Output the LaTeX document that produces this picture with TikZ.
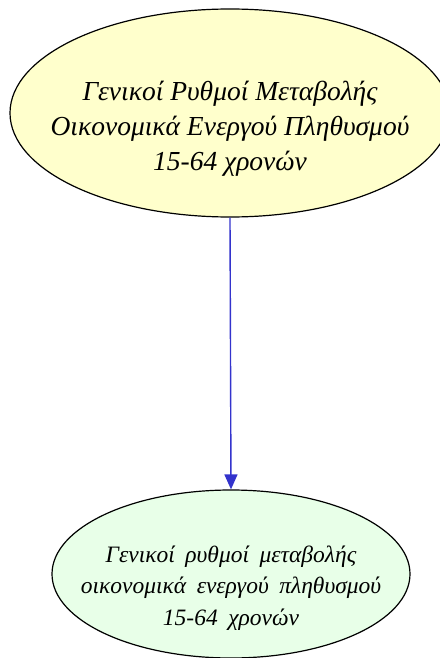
\documentclass[tikz,border=0pt]{standalone}
\usepackage{fontspec}
\setmainfont{Liberation Serif}
\usetikzlibrary{shapes.geometric,arrows.meta}
\definecolor{topfill}{HTML}{FFFFCC}
\definecolor{botfill}{HTML}{E8FFE8}
\definecolor{edgeblue}{HTML}{3333CC}
\newcommand\mywidespace{\spaceskip=0.45em\relax}
\begin{document}
\begin{tikzpicture}[x=1pt,y=-1pt,
  ell/.style={ellipse,draw=black,line width=1.2pt,inner sep=0pt},
  toptext/.style={align=center,font=\fontsize{27.5}{35}\selectfont\itshape},
  bottext/.style={align=center,font=\fontsize{23.5}{31.5}\selectfont\itshape\mywidespace},
  link/.style={draw=edgeblue,line width=1.4pt,-{Triangle[length=15pt,width=13pt]}}]
\useasboundingbox (0,0) rectangle (439,658);
\node[ell,fill=topfill,minimum width=440pt,minimum height=208pt] (top) at (230,113) {};
\node[toptext] (ttop) at (230,129) {Γενικοί Ρυθμοί Μεταβολής\\Οικονομικά Ενεργού Πληθυσμού\\15-64 χρονών};
\node[ell,fill=botfill,minimum width=358pt,minimum height=168pt] (bot) at (231,574) {};
\node[bottext] (tbot) at (231,588) {Γενικοί ρυθμοί μεταβολής\\οικονομικά ενεργού πληθυσμού\\15-64 χρονών};
\draw[link] (top.south) -- (bot.north);
\end{tikzpicture}
\end{document}
